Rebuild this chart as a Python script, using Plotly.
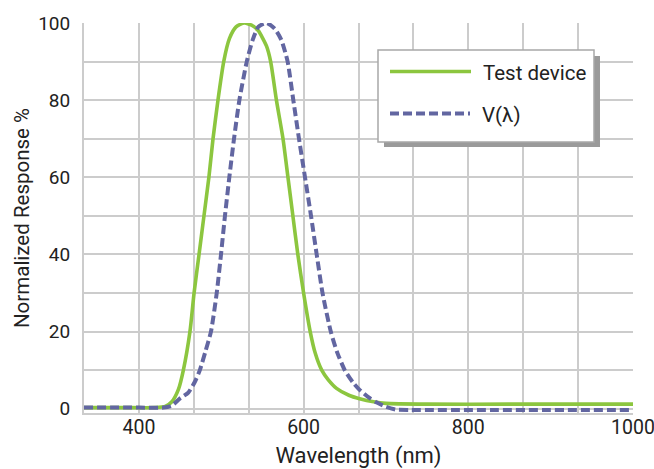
import plotly.graph_objects as go

# ---- data ----
test_wl = [333.3, 380, 420, 432, 440, 448, 454, 462, 467, 473, 479, 485, 490, 496, 503, 510,
           518, 528, 538, 545, 555, 560, 567, 575, 581, 587, 593, 600, 608, 614, 622, 630,
           640, 655, 668, 685, 700, 750, 850, 1000]
test_val = [0.3, 0.3, 0.3, 0.6, 1.8, 5, 10, 20, 30, 40, 50, 60, 70, 80, 90, 96,
            99, 100, 99.3, 98, 94, 90, 80, 70, 60, 50, 40, 30, 20, 14.5, 10, 7.5,
            5.3, 3.5, 2.6, 1.8, 1.4, 1.2, 1.2, 1.2]

v_wl = [333.3, 400, 430, 440, 450, 460, 468, 474, 481, 487.5, 494.5, 499.7, 504.5, 509.8, 515.5,
        522, 531, 538, 545, 555, 565, 573, 580.6, 587.5, 594.4, 601.7, 609, 615.9, 623, 633,
        641, 650, 660, 668, 680, 689, 700, 712, 730, 1000]
v_val = [0.3, 0.3, 0.3, 0.8, 2.7, 4.2, 7, 10, 15, 20, 30, 40, 50, 60, 70,
         80, 90, 95.5, 99, 100, 98.5, 95.6, 90, 80, 70, 60, 50, 40, 30, 20,
         14.5, 10, 6.8, 4.9, 2.8, 1.6, 0.5, -0.2, -0.3, -0.3]

series_names = ["Test device", "V(\u03bb)"]
x_grid = [333.333, 400, 466.667, 533.333, 600, 666.667, 733.333, 800, 866.667, 933.333, 1000]
x_labels = ["", "400", "", "", "600", "", "", "800", "", "", "1000"]
y_grid = [0, 10, 20, 30, 40, 50, 60, 70, 80, 90, 100]
y_labels = ["0", "", "20", "", "40", "", "60", "", "80", "", "100"]

# ---- layout constants ----
W, H = 654, 469
ML, MR, MT, MB = 84, 21, 23, 56
GREEN = "#8cc63f"
BLUE = "#6266a1"
GRID = "#cccccc"
FONT = "Roboto"
TXT = "#222222"

pw, ph = W - ML - MR, H - MT - MB


def px(x):
    return (x - ML) / pw


def py(y):
    return 1 - (y - MT) / ph


fig = go.Figure()
fig.add_trace(go.Scatter(x=test_wl, y=test_val, mode="lines", name=series_names[0],
                         line=dict(color=GREEN, width=3.6, shape="spline", smoothing=0.6),
                         showlegend=False, hoverinfo="skip"))
fig.add_trace(go.Scatter(x=v_wl, y=v_val, mode="lines", name=series_names[1],
                         line=dict(color=BLUE, width=4, dash="9px,4px", shape="spline", smoothing=0.6),
                         showlegend=False, hoverinfo="skip"))

# manual legend (box with drop shadow)
shapes = [
    dict(type="rect", xref="paper", yref="paper", x0=px(384), x1=px(600), y0=py(147), y1=py(56),
         fillcolor="#9a9a9a", line=dict(width=0), layer="above"),
    dict(type="rect", xref="paper", yref="paper", x0=px(378), x1=px(594), y0=py(142), y1=py(50),
         fillcolor="white", line=dict(color="#a8a8a8", width=1.5), layer="above"),
    dict(type="line", xref="paper", yref="paper", x0=px(390), x1=px(471), y0=py(71.5), y1=py(71.5),
         line=dict(color=GREEN, width=3.6), layer="above"),
    dict(type="line", xref="paper", yref="paper", x0=px(390), x1=px(470), y0=py(113.5), y1=py(113.5),
         line=dict(color=BLUE, width=4, dash="9px,4px"), layer="above"),
]
annotations = [
    dict(xref="paper", yref="paper", x=px(481), y=py(72.5), text=series_names[0], showarrow=False,
         xanchor="left", yanchor="middle", font=dict(family=FONT, size=20.5, color=TXT)),
    dict(xref="paper", yref="paper", x=px(480), y=py(114.5), text=series_names[1], showarrow=False,
         xanchor="left", yanchor="middle", font=dict(family=FONT, size=20.5, color=TXT)),
]

fig.update_layout(
    template="none",
    width=W, height=H,
    margin=dict(l=ML, r=MR, t=MT, b=MB, pad=0),
    paper_bgcolor="white", plot_bgcolor="white",
    font=dict(family=FONT, size=19, color=TXT),
    shapes=shapes, annotations=annotations,
    xaxis=dict(range=[333.333, 1000], tickmode="array", tickvals=x_grid, ticktext=x_labels,
               automargin=False,
               showgrid=True, gridcolor=GRID, gridwidth=2, zeroline=False,
               showline=True, linecolor=GRID, linewidth=2,
               ticks="", ticklabelstandoff=-4,
               tickfont=dict(family=FONT, size=19.5, color=TXT), ticklabeloverflow="allow",
               title=dict(text="Wavelength (nm)", font=dict(family=FONT, size=22, color=TXT), standoff=10)),
    yaxis=dict(range=[-1.1, 100], tickmode="array", tickvals=y_grid, ticktext=y_labels,
               automargin=False,
               showgrid=True, gridcolor=GRID, gridwidth=2, zeroline=False,
               showline=True, linecolor=GRID, linewidth=2,
               ticks="outside", ticklen=8, tickcolor="rgba(0,0,0,0)",
               tickfont=dict(family=FONT, size=19, color=TXT),
               title=dict(text="Normalized Response %", font=dict(family=FONT, size=20.5, color=TXT), standoff=3)),
)

fig.write_html("out.html", config={"displayModeBar": False},
               post_script="document.body.style.margin='0';document.body.style.overflow='hidden';")
